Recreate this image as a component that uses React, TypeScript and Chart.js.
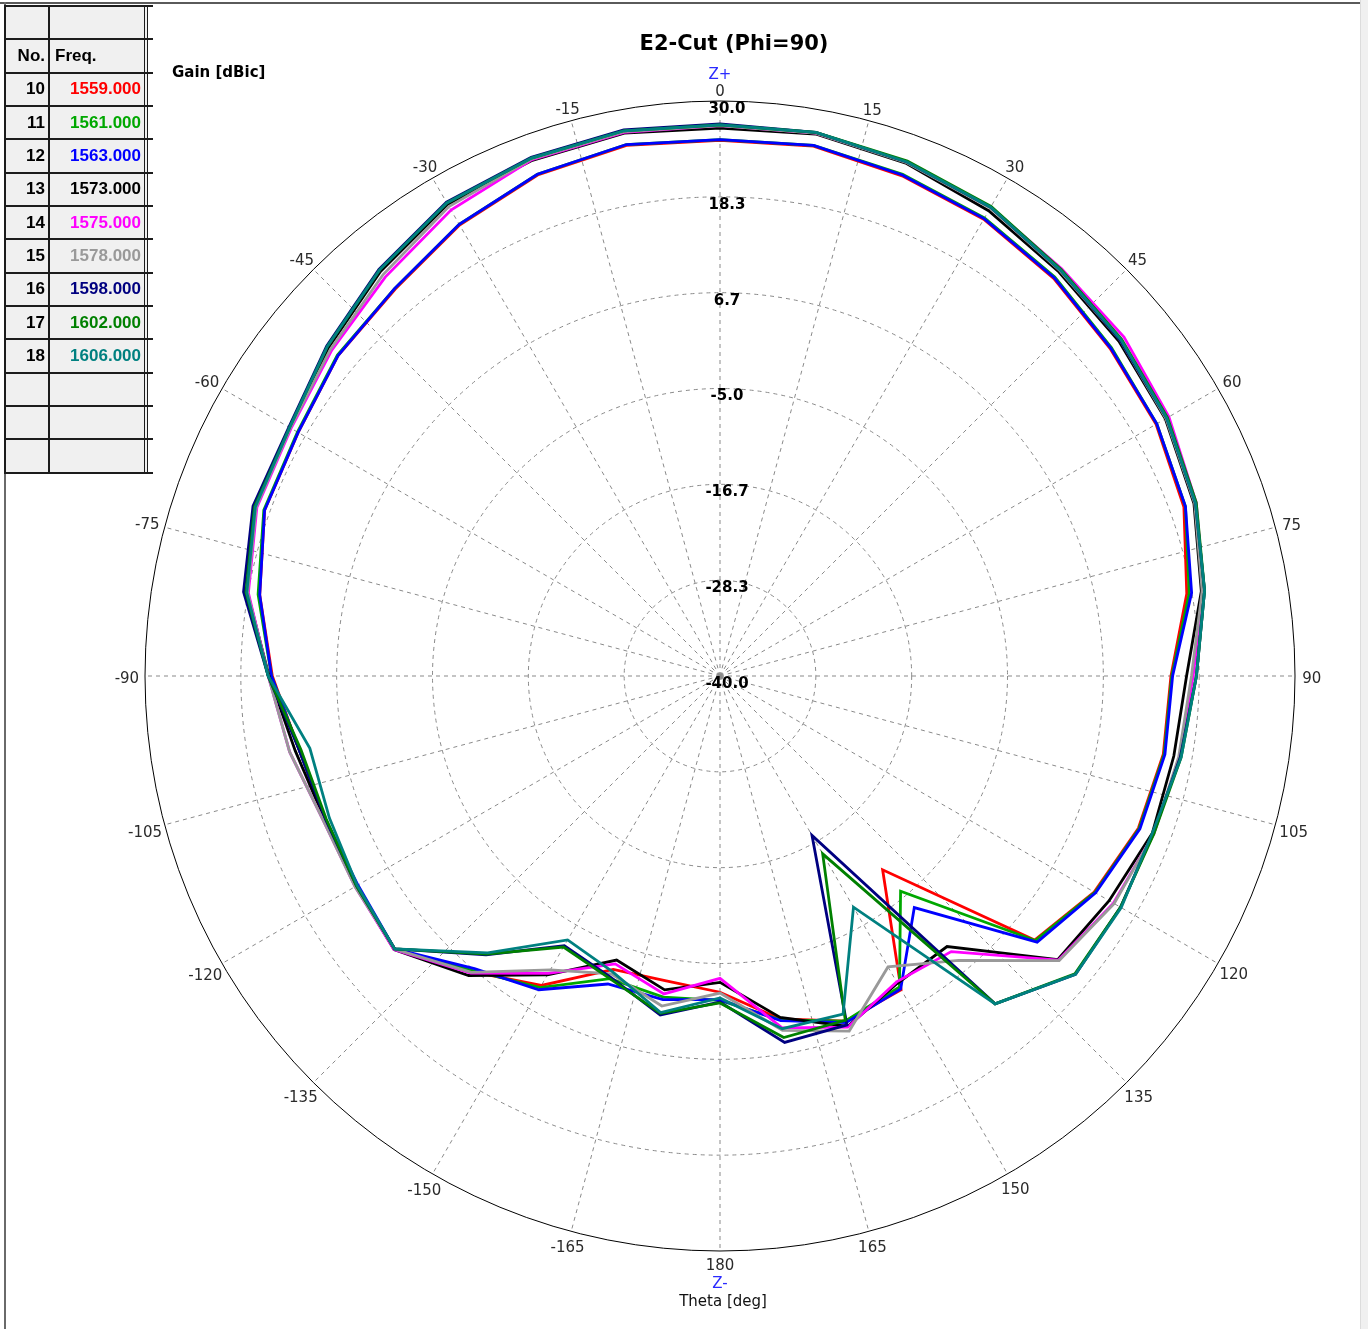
import { useEffect, useRef } from 'react';
import { Chart, registerables } from 'chart.js';

Chart.register(...registerables);

const FONT = '"DejaVu Sans", "Liberation Sans", sans-serif';
const TABLE_FONT = '"Liberation Sans", Arial, sans-serif';

const chartTitle = 'E2-Cut (Phi=90)';
const radialTitle = 'Gain [dBic]';
const angleTitle = 'Theta [deg]';

// Measured theta positions (deg), one sample every 10 degrees
const thetaDeg = [-180, -170, -160, -150, -140, -130, -120, -110, -100, -90, -80, -70, -60, -50, -40, -30, -20, -10, 0, 10, 20, 30, 40, 50, 60, 70, 80, 90, 100, 110, 120, 130, 140, 150, 160, 170];

// Spoke labels every 15 degrees, clockwise from the top
const spokeLabels = ['0', '15', '30', '45', '60', '75', '90', '105', '120', '135', '150', '165', '180', '-165', '-150', '-135', '-120', '-105', '-90', '-75', '-60', '-45', '-30', '-15'];

// Gain range of the radial axis (dBic) and number of rings
const gainMin = -40;
const gainMax = 30;
const gainRingCount = 7;

// Gain (dBic) per frequency, in thetaDeg order
const gain1559 = [-1.5, -2.3, -2.0, 3.5, 7.0, 11.7, 11.2, 11.1, 12.0, 14.5, 16.9, 19.0, 19.3, 20.7, 21.5, 23.4, 24.9, 25.6, 25.2, 25.5, 24.8, 24.2, 23.2, 22.0, 21.3, 20.1, 17.7, 14.9, 14.8, 14.2, 12.6, 10.0, -9.2, 4.1, 4.7, 2.4];
const gain1561 = [-0.5, -0.3, -0.8, 3.8, 6.8, 11.7, 11.1, 11.1, 12.0, 14.6, 17.1, 19.1, 19.4, 20.8, 21.6, 23.5, 25.0, 25.7, 25.3, 25.6, 25.0, 24.4, 23.4, 22.2, 21.4, 20.3, 18.0, 15.0, 14.9, 14.3, 12.7, 10.1, -5.8, 3.7, 4.7, 2.5];
const gain1563 = [-0.6, 0.0, -0.1, 4.1, 6.5, 11.7, 10.9, 11.1, 12.0, 14.6, 16.9, 19.0, 19.3, 20.7, 21.6, 23.5, 25.0, 25.7, 25.3, 25.6, 24.9, 24.3, 23.3, 22.1, 21.4, 20.3, 18.3, 15.1, 15.0, 14.4, 12.8, 10.4, -3.2, 4.0, 4.9, 2.6];
const gain1573 = [-2.7, -1.2, -3.2, 2.0, 7.6, 11.8, 11.2, 11.2, 12.5, 14.9, 18.4, 20.2, 20.4, 22.2, 24.3, 26.3, 26.8, 27.1, 26.7, 27.0, 26.4, 25.4, 24.2, 23.4, 22.6, 21.4, 19.5, 16.8, 16.1, 16.0, 14.7, 13.7, 3.0, 3.2, 5.4, 2.2];
const gain1575 = [-3.2, -0.7, -2.7, 1.8, 7.2, 11.8, 11.3, 11.4, 13.2, 15.0, 18.3, 20.0, 20.3, 21.7, 23.4, 25.5, 26.9, 27.2, 27.0, 27.1, 26.6, 25.9, 24.7, 24.2, 23.1, 21.7, 19.8, 17.6, 16.8, 16.2, 15.3, 13.8, 3.8, 3.0, 5.5, 3.5];
const gain1578 = [-1.4, 0.8, -1.4, 1.3, 7.1, 11.7, 11.3, 11.4, 13.2, 15.0, 18.4, 20.1, 20.4, 21.9, 23.8, 26.0, 27.0, 27.3, 27.0, 27.1, 26.5, 25.8, 24.4, 23.6, 22.7, 21.5, 19.6, 17.4, 16.7, 16.2, 15.4, 13.9, 5.2, 0.9, 6.0, 3.8];
const gain1598 = [-0.3, 1.9, -1.0, -2.1, 4.3, 11.7, 11.1, 11.1, 12.0, 15.0, 18.9, 20.5, 20.6, 22.5, 24.6, 26.6, 27.2, 27.5, 27.2, 27.2, 26.6, 25.9, 24.5, 23.6, 22.8, 21.6, 19.9, 18.0, 16.9, 16.1, 16.3, 16.5, 12.1, -17.6, 5.2, 5.3];
const gain1602 = [-0.2, 1.7, -0.8, -1.9, 4.2, 11.7, 11.1, 11.0, 11.8, 15.0, 18.6, 20.3, 20.5, 22.4, 24.5, 26.5, 27.1, 27.4, 27.1, 27.2, 26.7, 26.0, 24.6, 23.8, 22.9, 21.7, 19.9, 18.0, 17.0, 16.2, 16.3, 16.4, 12.1, -15.0, 4.6, 4.7];
const gain1606 = [-0.8, 1.6, -1.7, -2.9, 4.0, 11.7, 11.0, 10.6, 10.7, 15.0, 18.5, 20.2, 20.5, 22.4, 24.5, 26.5, 27.1, 27.4, 27.1, 27.2, 26.6, 25.9, 24.5, 23.7, 22.8, 21.6, 19.9, 18.0, 17.0, 16.0, 16.4, 16.5, 12.1, -7.5, 3.8, 3.6];

// Legend table rows
const traceNo = [10, 11, 12, 13, 14, 15, 16, 17, 18];
const traceFreq = ['1559.000', '1561.000', '1563.000', '1573.000', '1575.000', '1578.000', '1598.000', '1602.000', '1606.000'];
const traceColor = ['#ff0000', '#00a800', '#0000ff', '#000000', '#ff00ff', '#999999', '#000080', '#008000', '#008080'];
const traceGain = [gain1559, gain1561, gain1563, gain1573, gain1575, gain1578, gain1598, gain1602, gain1606];

// The angular axis is split into 5-degree slots so that 15-degree spokes
// and 10-degree samples share one category axis.
const SLOT_DEG = 5;
const SLOT_COUNT = 360 / SLOT_DEG;
const slotLabels = Array.from({ length: SLOT_COUNT }, (_, i) =>
  (i * SLOT_DEG) % 15 === 0 ? spokeLabels[(i * SLOT_DEG) / 15] : ''
);

function toSlots(values: number[]): (number | null)[] {
  const out: (number | null)[] = [];
  for (let i = 0; i < SLOT_COUNT; i++) {
    const a = i * SLOT_DEG;
    const theta = a >= 180 ? a - 360 : a;
    const k = thetaDeg.indexOf(theta);
    out.push(k >= 0 ? values[k] : null);
  }
  return out;
}

// Gain ring values, spoke angles and axis captions, placed with the radial scale
const polarText = {
  id: 'polarText',
  afterDraw(chart: any) {
    const s = chart.scales.r;
    const ctx = chart.ctx;
    const cx = s.xCenter;
    const cy = s.yCenter;
    const R = s.drawingArea;
    ctx.save();
    ctx.textAlign = 'center';
    ctx.textBaseline = 'middle';

    // spoke angles, centred just outside the outer ring
    ctx.font = `15px ${FONT}`;
    ctx.fillStyle = '#2a2a2a';
    slotLabels.forEach((lab, i) => {
      if (!lab) return;
      const w = ctx.measureText(lab).width;
      const probe = s.getPointPosition(i, R);
      const dx = Math.cos(probe.angle);
      const p = s.getPointPosition(i, R + 12 + Math.abs(dx) * w * 0.25);
      ctx.fillText(lab, p.x, p.y + 3);
    });

    // ring values
    ctx.fillStyle = '#000';
    ctx.font = `bold 15px ${FONT}`;
    s.ticks.forEach((t: any) => {
      const d = s.getDistanceFromCenterForValue(t.value);
      ctx.fillText(Number(t.value).toFixed(1), cx + 7, cy - d + 8);
    });

    ctx.font = `15px ${FONT}`;
    ctx.fillStyle = '#2a2aff';
    ctx.fillText('Z+', cx, cy - R - 26);
    ctx.fillText('Z-', cx, cy + R + 33);
    ctx.fillStyle = '#111';
    ctx.fillText(angleTitle, cx + 3, cy + R + 51);
    ctx.fillStyle = '#000';
    ctx.font = `bold 21px ${FONT}`;
    ctx.fillText(chartTitle, cx + 14, 45);
    ctx.font = `bold 15px ${FONT}`;
    ctx.textAlign = 'left';
    ctx.fillText(radialTitle, 172, 73);
    ctx.restore();
  },
};

function LegendTable() {
  const left = 5;
  const top = 6;
  const rowH = 33.33;
  const rows = 14;
  const lineColor = '#1c1c1c';
  const cells: any[] = [];
  cells.push(
    <div key="bg" style={{ position: 'absolute', left, top, width: 143, height: rows * rowH, background: '#f0f0f0' }} />
  );
  for (let k = 0; k <= rows; k++) {
    cells.push(
      <div key={'h' + k} style={{ position: 'absolute', left, top: top + k * rowH - 1, width: 148, height: 2, background: lineColor }} />
    );
  }
  const vlines = [
    { x: 4, w: 2 },
    { x: 47.5, w: 2 },
    { x: 143.5, w: 1.5 },
    { x: 146.5, w: 1.5 },
  ];
  vlines.forEach((v, i) =>
    cells.push(
      <div key={'v' + i} style={{ position: 'absolute', left: v.x, top: top - 1, width: v.w, height: rows * rowH + 2, background: lineColor }} />
    )
  );
  const text = (key: string, s: string, y: number, color: string, opts: any) =>
    cells.push(
      <div
        key={key}
        style={{
          position: 'absolute',
          top: y - 10,
          height: 20,
          lineHeight: '20px',
          font: `bold 17px ${TABLE_FONT}`,
          color,
          whiteSpace: 'nowrap',
          ...opts,
        }}
      >
        {s}
      </div>
    );
  text('hn', 'No.', top + 1.5 * rowH, '#000', { right: 1368 - 45, textAlign: 'right' });
  text('hf', 'Freq.', top + 1.5 * rowH, '#000', { left: 55 });
  traceNo.forEach((n, i) => {
    const y = top + (i + 2.5) * rowH;
    text('n' + i, String(n), y, '#000', { right: 1368 - 45, textAlign: 'right' });
    text('f' + i, traceFreq[i], y, traceColor[i], { right: 1368 - 141, textAlign: 'right' });
  });
  return <>{cells}</>;
}

export default function App() {
  const canvasRef = useRef<HTMLCanvasElement | null>(null);

  useEffect(() => {
    const canvas = canvasRef.current;
    if (!canvas) return;
    const n = traceGain.length;
    const chart = new Chart(canvas, {
      type: 'radar',
      data: {
        labels: slotLabels,
        datasets: traceGain.map((g, i) => ({
          label: traceFreq[i],
          data: toSlots(g),
          borderColor: traceColor[i],
          backgroundColor: traceColor[i],
          borderWidth: 2.8,
          pointRadius: 0,
          pointHoverRadius: 0,
          fill: false,
          spanGaps: true,
          tension: 0,
          order: n - i,
        })),
      },
      options: {
        responsive: false,
        animation: false,
        devicePixelRatio: 1,
        layout: { padding: { left: 145, right: 73, top: 101, bottom: 78 } },
        plugins: {
          legend: { display: false },
          title: { display: false },
          tooltip: { enabled: false },
        },
        scales: {
          r: {
            min: gainMin,
            max: gainMax,
            startAngle: 0,
            ticks: { count: gainRingCount, display: false },
            grid: {
              circular: true,
              lineWidth: 1,
              color: (c: any) => (c.index === gainRingCount - 1 ? '#000000' : '#8a8a8a'),
            },
            border: {
              dash: (c: any) => (c.index === gainRingCount - 1 ? [] : [4, 4]),
            },
            angleLines: {
              display: true,
              color: '#8a8a8a',
              lineWidth: (c: any) => ((c.index * SLOT_DEG) % 15 === 0 ? 1 : 0),
              borderDash: [4, 4],
            },
            pointLabels: { display: false },
          },
        },
      },
      plugins: [polarText],
    } as any);
    return () => chart.destroy();
  }, []);

  return (
    <div style={{ position: 'absolute', left: 0, top: 0, width: 1368, height: 1329, background: '#ffffff', overflow: 'hidden' }}>
      <canvas ref={canvasRef} width={1368} height={1329} style={{ position: 'absolute', left: 0, top: 0, display: 'block' }} />
      <div style={{ position: 'absolute', left: 0, top: 2, width: 1360, height: 2, background: '#5a5a5a' }} />
      <div style={{ position: 'absolute', left: 4, top: 2, width: 2, height: 1327, background: '#6a6a6a' }} />
      <div style={{ position: 'absolute', left: 1360, top: 0, width: 8, height: 1329, background: '#f0f0f0', borderLeft: '1px solid #dcdcdc' }} />
      <LegendTable />
    </div>
  );
}
